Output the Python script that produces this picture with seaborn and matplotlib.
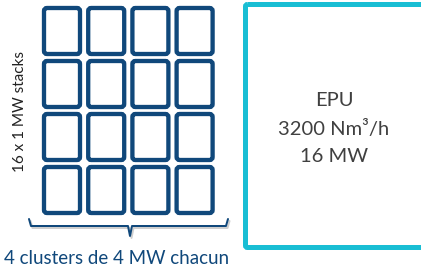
import matplotlib
matplotlib.use("Agg")
import numpy as np
import seaborn as sns
from matplotlib import pyplot as plt
from matplotlib.patches import FancyBboxPatch

# stack grid: 4 clusters (columns) x 4 stacks (rows)
n_clusters = 4
n_stacks = 4
stack_label = "16 x 1 MW stacks"
cluster_label = "4 clusters de 4 MW chacun"
epu_lines = ["EPU", "3200 Nm³/h", "16 MW"]

DARK_BLUE = "#10487b"
CYAN = "#19bed4"
TEXT = "#404040"

sns.set_theme(style="white")
plt.rcParams['font.family'] = ['Lato', 'DejaVu Sans']

fig = plt.figure(figsize=(4.21, 2.68), dpi=100)
ax = fig.add_axes([0, 0, 1, 1])
ax.set_xlim(0, 421)
ax.set_ylim(268, 0)
ax.axis("off")

px = 0.72  # points per pixel

# stacks
x0, y0 = 44, 8
w, h = 36, 46
dx, dy = 44.2, 53
for col in range(n_clusters):
    for row in range(n_stacks):
        box = FancyBboxPatch((x0 + col * dx, y0 + row * dy), w, h,
                             boxstyle="round,pad=0,rounding_size=3",
                             fill=False, ec=DARK_BLUE, lw=4.3 * px)
        ax.add_patch(box)

# brace under the grid, with a soft shadow
bx = np.array([29, 31, 128, 130, 132, 226, 228])
by = np.array([219, 226, 226, 236, 226, 226, 219])
ax.plot(bx + 1.5, by + 2, color="#b0b0b0", lw=2 * px, alpha=0.6,
        solid_capstyle="round", solid_joinstyle="round")
ax.plot(bx, by, color=DARK_BLUE, lw=2 * px,
        solid_capstyle="round", solid_joinstyle="round")

ax.text(117, 258, cluster_label, ha="center", va="center",
        color=DARK_BLUE, fontsize=13.5)
ax.text(20, 112, stack_label, ha="center", va="center", rotation=90,
        color="#222222", fontsize=11)

# EPU block (runs off the right edge)
epu = FancyBboxPatch((245.5, 4.5), 190, 243,
                     boxstyle="round,pad=0,rounding_size=2",
                     fill=False, ec=CYAN, lw=5 * px)
ax.add_patch(epu)
for i, line in enumerate(epu_lines):
    ax.text(334, 100 + i * 28.5, line, ha="center", va="center",
            color=TEXT, fontsize=14.5)

fig.savefig("out.png", dpi=100, facecolor="white")
